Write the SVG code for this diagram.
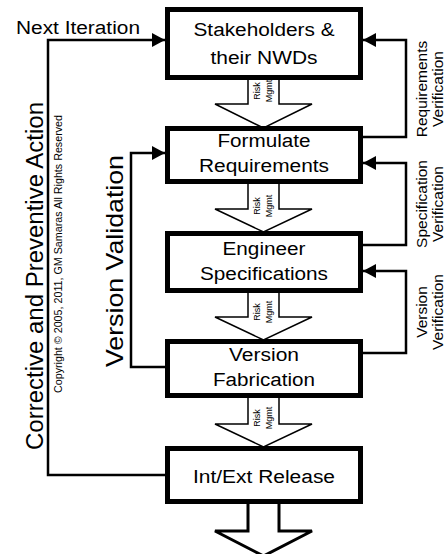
<svg xmlns="http://www.w3.org/2000/svg" width="447" height="554" viewBox="0 0 447 554">
  <defs>
    <marker id="head" markerUnits="userSpaceOnUse" markerWidth="14" markerHeight="14" refX="13" refY="7" orient="auto">
      <path d="M0,0 L13,7 L0,14 Z" fill="#000"/>
    </marker>
    <style>
      text { font-family: "Liberation Sans", Arial, sans-serif; fill: #000; }
      .box { fill: #fff; stroke: #000; stroke-width: 5; }
      .lbl { font-size: 18px; text-anchor: middle; }
      .fat { fill: #fff; stroke: #000; stroke-width: 1.5; stroke-linejoin: miter; }
      .fat-end { fill: #fff; stroke: #000; stroke-width: 3; }
      .risk { font-size: 9px; text-anchor: middle; }
      .link { fill: none; stroke: #000; stroke-width: 2.5; }
      .side { font-size: 15.5px; text-anchor: middle; }
    </style>
  </defs>

  <!-- feedback connectors -->
  <g id="connectors">
    <path class="link" d="M165,475 H48 V40 H165" marker-end="url(#head)"/>
    <path class="link" d="M165,367 H131 V153 H165" marker-end="url(#head)"/>
    <path class="link" d="M363,137 H406 V40 H363" marker-end="url(#head)"/>
    <path class="link" d="M363,245 H406 V163 H363" marker-end="url(#head)"/>
    <path class="link" d="M363,353 H406 V271 H363" marker-end="url(#head)"/>
  </g>

  <!-- block arrows between stages -->
  <g id="risk-arrows">
    <g id="risk1">
      <path class="fat" d="M248,78 V104 H215 L263.5,128 L312,104 H279 V78"/>
      <text class="risk" transform="translate(260 91) rotate(-90)">Risk</text>
      <text class="risk" transform="translate(272 91) rotate(-90)">Mgmt</text>
    </g>
    <g id="risk2">
      <path class="fat" d="M248,182 V209 H215 L263.5,232 L312,209 H279 V182"/>
      <text class="risk" transform="translate(260 206) rotate(-90)">Risk</text>
      <text class="risk" transform="translate(272 206) rotate(-90)">Mgmt</text>
    </g>
    <g id="risk3">
      <path class="fat" d="M248,291 V317 H215 L263.5,340 L312,317 H279 V291"/>
      <text class="risk" transform="translate(260 312) rotate(-90)">Risk</text>
      <text class="risk" transform="translate(272 312) rotate(-90)">Mgmt</text>
    </g>
    <g id="risk4">
      <path class="fat" d="M248,396 V424 H215 L263.5,447 L312,424 H279 V396"/>
      <text class="risk" transform="translate(260 418) rotate(-90)">Risk</text>
      <text class="risk" transform="translate(272 418) rotate(-90)">Mgmt</text>
    </g>
    <path id="output-arrow" class="fat-end" d="M248,502 V531 H215 L263.5,556 L312,531 H279 V502"/>
  </g>

  <!-- stage boxes -->
  <g id="stakeholders">
    <rect class="box" x="167.5" y="9.5" width="193" height="68"/>
    <text class="lbl" x="264" y="36" textLength="141" lengthAdjust="spacingAndGlyphs">Stakeholders &amp;</text>
    <text class="lbl" x="264" y="64" textLength="107" lengthAdjust="spacingAndGlyphs">their NWDs</text>
  </g>
  <g id="requirements">
    <rect class="box" x="167.5" y="128.5" width="193" height="53"/>
    <text class="lbl" x="264" y="147" textLength="93" lengthAdjust="spacingAndGlyphs">Formulate</text>
    <text class="lbl" x="264" y="172" textLength="130" lengthAdjust="spacingAndGlyphs">Requirements</text>
  </g>
  <g id="specifications">
    <rect class="box" x="167.5" y="233.5" width="193" height="57"/>
    <text class="lbl" x="264" y="255" textLength="83" lengthAdjust="spacingAndGlyphs">Engineer</text>
    <text class="lbl" x="264" y="280" textLength="128" lengthAdjust="spacingAndGlyphs">Specifications</text>
  </g>
  <g id="fabrication">
    <rect class="box" x="167.5" y="341.5" width="193" height="54"/>
    <text class="lbl" x="264" y="361" textLength="70" lengthAdjust="spacingAndGlyphs">Version</text>
    <text class="lbl" x="264" y="386" textLength="102" lengthAdjust="spacingAndGlyphs">Fabrication</text>
  </g>
  <g id="release">
    <rect class="box" x="167.5" y="448.5" width="193" height="53"/>
    <text class="lbl" x="264" y="483" textLength="142" lengthAdjust="spacingAndGlyphs">Int/Ext Release</text>
  </g>

  <!-- loop labels -->
  <g id="loop-labels">
    <text class="lbl" x="78" y="34" font-size="17" textLength="124" lengthAdjust="spacingAndGlyphs">Next Iteration</text>
    <text class="lbl" style="font-size:23.5px" transform="translate(43 276) rotate(-90)" textLength="348" lengthAdjust="spacingAndGlyphs">Corrective and Preventive Action</text>
    <text class="lbl" style="font-size:10.5px" transform="translate(62 254) rotate(-90)" textLength="278" lengthAdjust="spacingAndGlyphs">Copyright © 2005, 2011, GM Samaras  All Rights Reserved</text>
    <text class="lbl" style="font-size:24px" transform="translate(123 261) rotate(-90)" textLength="212" lengthAdjust="spacingAndGlyphs">Version Validation</text>
    <text class="side" transform="translate(427 89) rotate(-90)">Requirements</text>
    <text class="side" transform="translate(443 89) rotate(-90)">Verification</text>
    <text class="side" transform="translate(427 204) rotate(-90)">Specification</text>
    <text class="side" transform="translate(443 204) rotate(-90)">Verification</text>
    <text class="side" transform="translate(427 312) rotate(-90)">Version</text>
    <text class="side" transform="translate(443 312) rotate(-90)">Verification</text>
  </g>
</svg>
